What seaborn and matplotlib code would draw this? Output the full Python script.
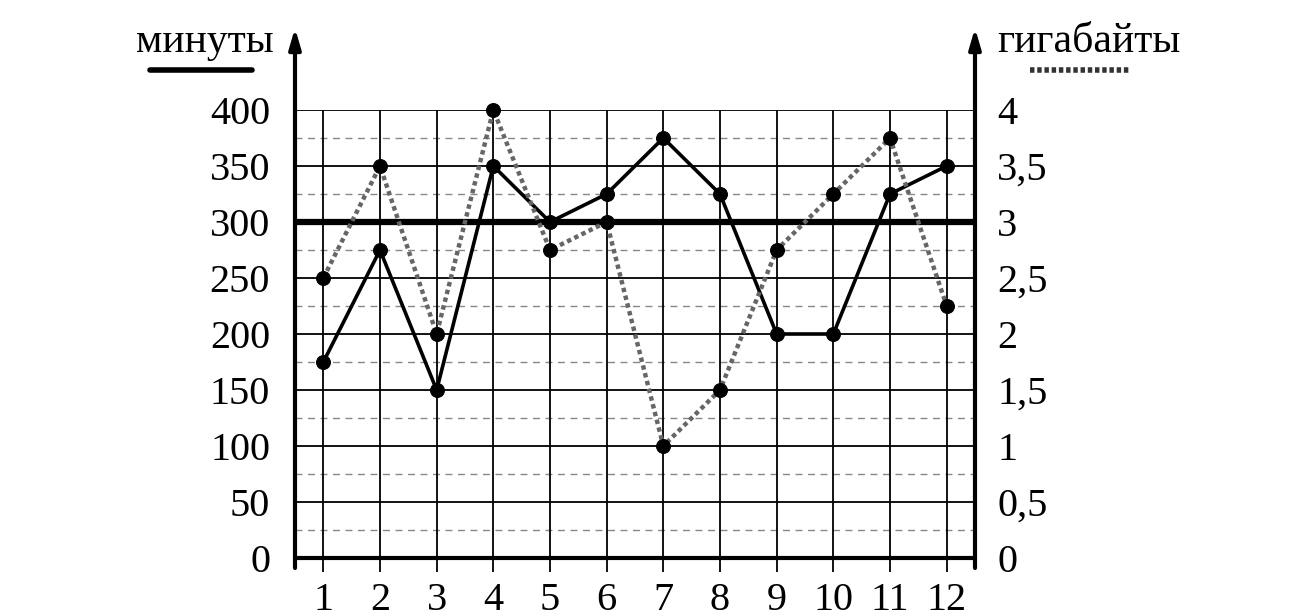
import numpy as np
import pandas as pd
import seaborn as sns
import matplotlib
matplotlib.use("Agg")
import matplotlib.pyplot as plt

months = list(range(1, 13))
minutes = [175, 275, 150, 350, 300, 325, 375, 325, 200, 200, 325, 350]
gigabytes = [2.5, 3.5, 2.0, 4.0, 2.75, 3.0, 1.0, 1.5, 2.75, 3.25, 3.75, 2.25]
limit_minutes = 300
left_ticks = [0, 50, 100, 150, 200, 250, 300, 350, 400]
right_ticks = [0, 0.5, 1, 1.5, 2, 2.5, 3, 3.5, 4]
right_labels = ['0', '0,5', '1', '1,5', '2', '2,5', '3', '3,5', '4']
left_title = 'минуты'
right_title = 'гигабайты'

sns.set_style('white')
plt.rcParams['font.family'] = ['Liberation Serif', 'DejaVu Serif']
plt.rcParams['text.color'] = 'black'
plt.rcParams['xtick.color'] = 'black'
plt.rcParams['ytick.color'] = 'black'

W, H = 1315, 616
fig = plt.figure(figsize=(W / 100, H / 100), dpi=100)
x0, x1, y0, y1 = 295, 975, 558, 110
ax = fig.add_axes([x0 / W, (H - y0) / H, (x1 - x0) / W, (y0 - y1) / H])
ax2 = ax.twinx()

# grid
for v in range(25, 400, 50):
    ax.axhline(v, color='#888888', lw=1, ls=(0, (5, 4)), zorder=0)
for v in range(50, 401, 50):
    ax.axhline(v, color='black', lw=1.3, zorder=0)
for m in months:
    ax.axvline(m, color='black', lw=1.3, zorder=0)

ax.axhline(limit_minutes, color='black', lw=4.5, zorder=2)

df = pd.DataFrame({'month': months, 'minutes': minutes, 'gb': gigabytes})
sns.lineplot(data=df, x='month', y='minutes', ax=ax, color='black', lw=2.6,
             marker='o', markersize=10, markeredgecolor='black', zorder=3)
sns.lineplot(data=df, x='month', y='gb', ax=ax2, color='#666666', lw=3.2,
             ls=(0, (1, 0.8)), zorder=3)
sns.lineplot(data=df, x='month', y='gb', ax=ax2, color='black', lw=0,
             marker='o', markersize=10, markeredgecolor='black', zorder=4,
             clip_on=False)

ax.set_xlim(0.5, 12.5)
ax.set_ylim(0, 400)
ax2.set_ylim(0, 4)
ax.set_xlabel('')
ax.set_ylabel('')
ax2.set_ylabel('')

for a in (ax, ax2):
    for s in ('left', 'right', 'top', 'bottom'):
        a.spines[s].set_visible(False)

ax.axhline(0, color='black', lw=3, zorder=5, clip_on=False)

ax.set_xticks(months)
ax.set_xticklabels([str(m) for m in months])
ax.tick_params(axis='x', direction='out', length=10, width=1.3, pad=7,
               labelsize=29, bottom=True)
ax.set_yticks(left_ticks)
ax.tick_params(axis='y', length=0, pad=18, labelsize=29)
ax2.set_yticks(right_ticks)
ax2.set_yticklabels(right_labels)
ax2.tick_params(axis='y', length=0, pad=16, labelsize=29)

# axis arrows
top = (y0 - 28) / (y0 - y1)
bot = -10 / (y0 - y1)
for xa in (0, 1):
    ax.annotate('', xy=(xa, top), xytext=(xa, bot), xycoords='axes fraction',
                arrowprops=dict(arrowstyle='-|>,head_width=0.35,head_length=1.2',
                                lw=3, color='black', shrinkA=0, shrinkB=0))

fig.text(205 / W, 1 - 42 / H, left_title, ha='center', va='center', fontsize=30)
fig.text(997 / W, 1 - 42 / H, right_title, ha='left', va='center', fontsize=30)
fig.add_artist(plt.Line2D([150 / W, 252 / W], [1 - 70 / H, 1 - 70 / H],
                          color='black', lw=4))
fig.add_artist(plt.Line2D([1030 / W, 1131 / W], [1 - 70 / H, 1 - 70 / H],
                          color='#333333', lw=4, ls=(0, (0.8, 0.5))))

fig.savefig('out.png', dpi=100)
